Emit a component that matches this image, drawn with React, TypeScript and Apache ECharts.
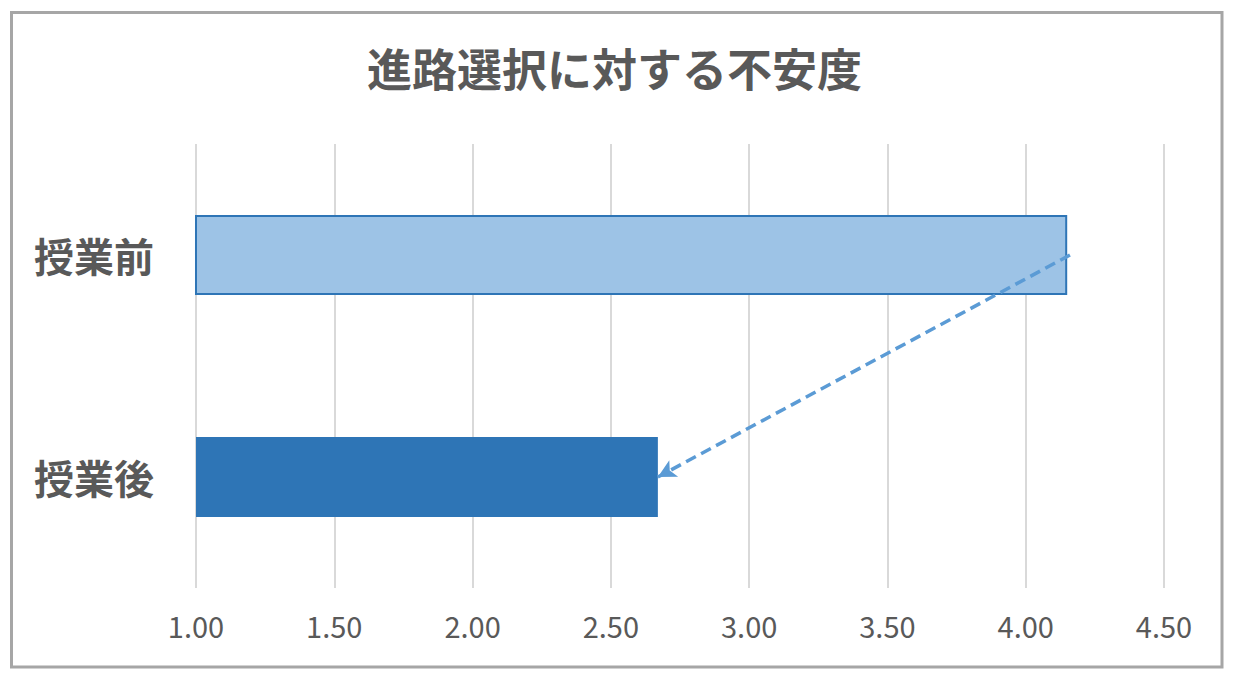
import React, { useEffect, useRef } from "react";
import * as echarts from "echarts";

const title = "進路選択に対する不安度";
const categories = ["授業前", "授業後"];
const values = [4.15, 2.67];
const barColors = ["#9dc3e6", "#2e75b6"];
const arrowFrom = [4.16, "授業前"];
const arrowTo = [2.67, "授業後"];
const xMin = 1.0;
const xMax = 4.5;
const xInterval = 0.5;

const FONT = '"Noto Sans CJK JP", "Noto Sans", sans-serif';

export default function App() {
  const ref = useRef<HTMLDivElement>(null);
  useEffect(() => {
    if (!ref.current) return;
    const chart = echarts.init(ref.current, null, { renderer: "svg" });
    chart.setOption({
      animation: false,
      backgroundColor: "#ffffff",
      title: {
        text: title,
        left: 362,
        top: 40,
        textStyle: {
          fontFamily: FONT,
          fontSize: 45,
          fontWeight: "bold",
          color: "#595959",
        },
      },
      graphic: [
        {
          type: "rect",
          shape: { x: 11.5, y: 12.5, width: 1210.5, height: 654.5 },
          style: { fill: "none", stroke: "#a6a6a6", lineWidth: 3 },
          silent: true,
        },
      ],
      grid: { left: 196, right: 70, top: 144, bottom: 90, containLabel: false },
      xAxis: {
        type: "value",
        min: xMin,
        max: xMax,
        interval: xInterval,
        axisLine: { show: false },
        axisTick: { show: false },
        splitLine: { show: true, lineStyle: { color: "#d9d9d9", width: 2 } },
        axisLabel: {
          fontFamily: FONT,
          fontSize: 29,
          color: "#595959",
          margin: 22,
          formatter: (v: number) => v.toFixed(2),
        },
      },
      yAxis: {
        type: "category",
        data: categories,
        inverse: true,
        axisLine: { show: false },
        axisTick: { show: false },
        axisLabel: {
          fontFamily: FONT,
          fontSize: 40,
          fontWeight: "bold",
          color: "#595959",
          margin: 42,
          padding: [0, 0, 7, 0],
        },
      },
      series: [
        {
          type: "bar",
          barWidth: "36%",
          data: values.map((v, i) => ({
            value: v,
            itemStyle:
              i === 0
                ? { color: barColors[0], borderColor: "#2e75b6", borderWidth: 2 }
                : { color: barColors[1] },
          })),
          markLine: {
            silent: true,
            symbol: ["none", "arrow"],
            symbolSize: [14, 18],
            label: { show: false },
            lineStyle: { color: "#5b9bd5", type: [11, 6], width: 3.5 },
            data: [[{ coord: arrowFrom }, { coord: arrowTo }]],
          },
        },
      ],
    });
    return () => chart.dispose();
  }, []);
  return (
    <div
      ref={ref}
      style={{ position: "absolute", left: 0, top: 0, width: 1234, height: 678 }}
    />
  );
}
